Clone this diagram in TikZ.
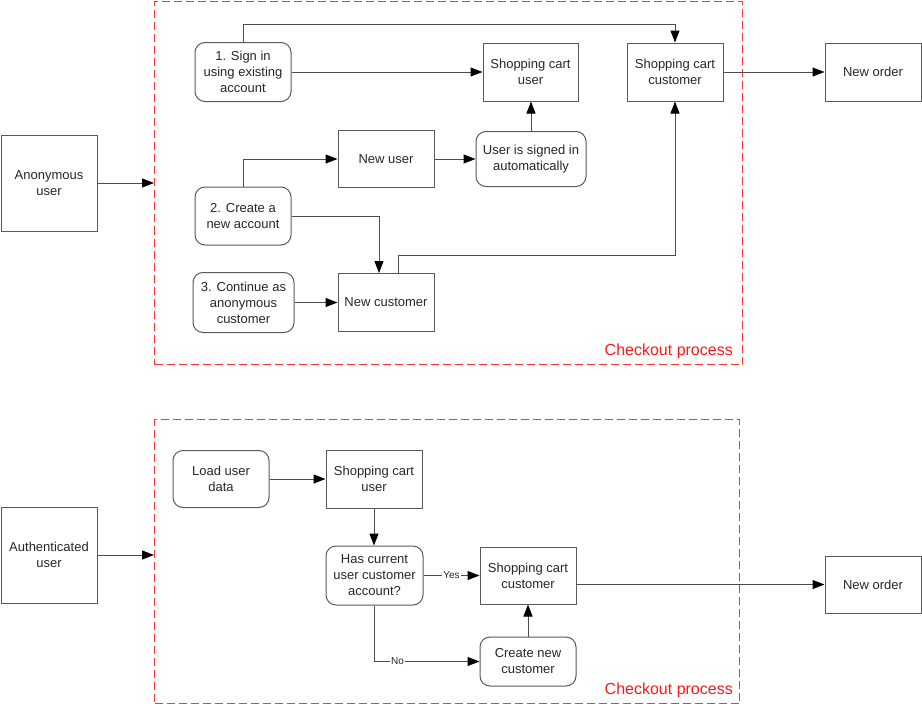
\documentclass[tikz,border=0pt]{standalone}
\usepackage{fontspec}
\setmainfont{Liberation Sans}
\usetikzlibrary{arrows.meta}
\begin{document}
\begin{tikzpicture}[x=1pt,y=-1pt,
  font=\fontsize{13}{16}\selectfont,
  box/.style={draw=black!65, line width=1pt, align=center, inner sep=1pt, text=black!85},
  rbox/.style={box, rounded corners=10pt},
  conn/.style={draw=black!70, line width=1pt, -{Triangle[length=12pt,width=9pt,fill=black,color=black]}},
  frame/.style={draw=red!80!white, line width=1pt, dash pattern=on 8pt off 4pt},
  flabel/.style={text=red!90!white, font=\fontsize{16}{19}\selectfont, inner sep=0pt},
  elabel/.style={font=\fontsize{10}{12}\selectfont, fill=white, inner sep=1pt, text=black!85}]
\useasboundingbox (0,0) rectangle (922,704);

% ---------- top section ----------
\node[frame, minimum width=588pt, minimum height=363pt] (f1) at (448.5,183) {};
\node[flabel, anchor=base east] (cl1) at (733,355) {Checkout process};

\node[box, minimum width=96pt, minimum height=96pt] (anon) at (49,183) {Anonymous\\user};
\node[rbox, minimum width=96pt, minimum height=59pt] (sign) at (243,72) {1. Sign in\\using existing\\account};
\node[box, minimum width=95pt, minimum height=58pt] (scu1) at (530.5,72) {Shopping cart\\user};
\node[box, minimum width=96pt, minimum height=58pt] (scc1) at (675,72) {Shopping cart\\customer};
\node[box, minimum width=96pt, minimum height=58pt] (no1) at (873,72) {New order};
\node[box, minimum width=96pt, minimum height=57pt] (nu) at (386,159) {New user};
\node[rbox, minimum width=110pt, minimum height=55pt] (usi) at (531,159) {User is signed in\\automatically};
\node[rbox, minimum width=96pt, minimum height=58pt] (ca) at (243,216) {2. Create a\\new account};
\node[rbox, minimum width=101pt, minimum height=60pt] (cont) at (243.5,302.5) {3. Continue as\\anonymous\\customer};
\node[box, minimum width=96pt, minimum height=58pt] (nc) at (386,302.5) {New customer};

\draw[conn] (anon.east) -- (anon.east -| f1.west);
\draw[conn] (sign.north) -- ++(0,-18) -| (scc1.north);
\draw[conn] (sign) -- (scu1);
\draw[conn] (scc1) -- (no1);
\draw[conn] (nu) -- (usi);
\draw[conn] (usi.north) -- (usi.north |- scu1.south);
\draw[conn] (ca.north) |- (nu.west);
\draw[conn] (ca.east) -| ([xshift=-7pt]nc.north);
\draw[conn] (cont) -- (nc);
\draw[conn] ([xshift=12pt]nc.north) -- ++(0,-18) -| (scc1.south);

% ---------- bottom section ----------
\node[frame, minimum width=585pt, minimum height=284pt] (f2) at (447,561.5) {};
\node[flabel, anchor=base east] (cl2) at (733,694) {Checkout process};

\node[box, minimum width=96pt, minimum height=96pt] (auth) at (49,555) {Authenticated\\user};
\node[rbox, minimum width=96pt, minimum height=57pt] (lud) at (221,479) {Load user\\data};
\node[box, minimum width=96pt, minimum height=58pt] (scu2) at (374,479) {Shopping cart\\user};
\node[rbox, minimum width=97pt, minimum height=59pt] (has) at (374.5,575.5) {Has current\\user customer\\account?};
\node[box, minimum width=96pt, minimum height=57pt] (scc2) at (528,575.5) {Shopping cart\\customer};
\node[box, minimum width=96pt, minimum height=57pt] (no2) at (873,584.5) {New order};
\node[rbox, minimum width=96pt, minimum height=49pt] (cnc) at (528,661.5) {Create new\\customer};

\draw[conn] (auth.east) -- (auth.east -| f2.west);
\draw[conn] (lud) -- (scu2);
\draw[conn] (scu2.south) -- (scu2.south |- has.north);
\draw[conn] (has.east) -- node[elabel] {Yes} (has.east -| scc2.west);
\draw[conn] (scc2.east |- no2.west) -- (no2.west);
\draw[conn] (cnc.north) -- (scc2.south);
\draw[conn] (has.south) |- node[elabel, pos=0.61] {No} (cnc.west);
\end{tikzpicture}
\end{document}
